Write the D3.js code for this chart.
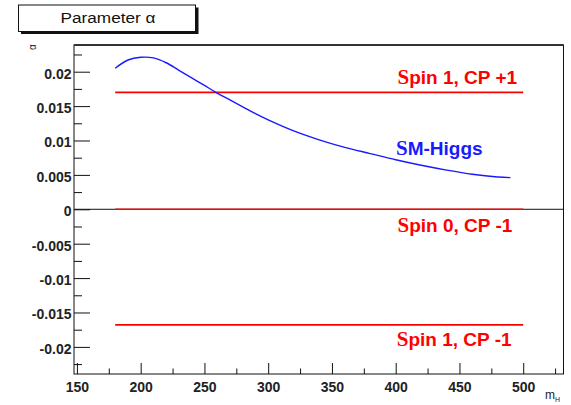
<!DOCTYPE html>
<html>
<head>
<meta charset="utf-8">
<script src="https://cdn.jsdelivr.net/npm/d3@7"></script>
<style>
  html, body { margin: 0; padding: 0; background: #fff; }
  svg { display: block; }
  text { font-family: "Liberation Sans", Arial, Helvetica, sans-serif; }
</style>
</head>
<body>
<svg id="chart" width="571" height="405"></svg>
<script>
// ---- data ----
const massPoints = [180, 190, 200, 210, 220, 230, 240, 250, 260, 270, 280, 290, 300, 320, 340, 360, 380, 400, 420, 440, 460, 480, 490];
const smHiggsAlpha = [0.0205, 0.0217, 0.0221, 0.0220, 0.0213, 0.0202, 0.0191, 0.0180, 0.0169, 0.0159, 0.0149, 0.0139, 0.0130, 0.0114, 0.0101, 0.0090, 0.0081, 0.0072, 0.0064, 0.0057, 0.0051, 0.0047, 0.0046];
const hypothesisNames = ["Spin 1, CP +1", "Spin 0, CP -1", "Spin 1, CP -1"];
const hypothesisAlpha = [0.0170, 0.0, -0.0168];
const hypothesisRange = [180, 500];
const xTickValues = [150, 200, 250, 300, 350, 400, 450, 500];
const xTickLabels = ["150", "200", "250", "300", "350", "400", "450", "500"];
const yTickValues = [-0.02, -0.015, -0.01, -0.005, 0, 0.005, 0.01, 0.015, 0.02];
const yTickLabels = ["-0.02", "-0.015", "-0.01", "-0.005", "0", "0.005", "0.01", "0.015", "0.02"];
const xMinorTicks = [175, 225, 275, 325, 375, 425, 475, 525];
const yMinorTicks = [-0.0225, -0.0175, -0.0125, -0.0075, -0.0025, 0.0025, 0.0075, 0.0125, 0.0175, 0.0225];

// ---- layout ----
const L = 74, R = 563.5, T = 45, B = 374;
const svg = d3.select("#chart");

const x = d3.scaleLinear().domain([147.7, 531.6]).range([L, R]);
const y = d3.scaleLinear().domain([-0.02394, 0.02388]).range([B, T]);

// Title box with shadow
svg.append("rect").attr("x", 21).attr("y", 7.5).attr("width", 177.5).attr("height", 26.5).attr("fill", "#111");
svg.append("rect").attr("x", 18.5).attr("y", 5).attr("width", 177).attr("height", 26.5)
  .attr("fill", "#fff").attr("stroke", "#111").attr("stroke-width", 1);
svg.append("text").attr("x", 108).attr("y", 23).attr("text-anchor", "middle")
  .attr("font-size", 15.5).attr("fill", "#111")
  .attr("textLength", 95).attr("lengthAdjust", "spacingAndGlyphs")
  .text("Parameter α");

// zero line
svg.append("line").attr("x1", L).attr("x2", R).attr("y1", y(0)).attr("y2", y(0))
  .attr("stroke", "#111").attr("stroke-width", 1);

// axes (ticks inward)
const yAxis = d3.axisLeft(y).tickValues(yTickValues)
  .tickFormat((d, i) => yTickLabels[i]).tickSize(-16).tickPadding(2.5);
const gy = svg.append("g").attr("transform", `translate(${L},0)`).call(yAxis);
gy.select(".domain").remove();
gy.selectAll(".tick line").attr("stroke", "#111");
gy.selectAll(".tick text").attr("font-size", 14).attr("font-weight", "bold")
  .attr("fill", "#222").attr("dy", "0.46em");

const yMinor = d3.axisLeft(y).tickValues(yMinorTicks).tickFormat("").tickSize(-8);
const gym = svg.append("g").attr("transform", `translate(${L},0)`).call(yMinor);
gym.select(".domain").remove();
gym.selectAll(".tick line").attr("stroke", "#111");

const xAxis = d3.axisBottom(x).tickValues(xTickValues)
  .tickFormat((d, i) => xTickLabels[i]).tickSize(-11).tickPadding(8);
const gx = svg.append("g").attr("transform", `translate(0,${B})`).call(xAxis);
gx.select(".domain").remove();
gx.selectAll(".tick line").attr("stroke", "#111");
gx.selectAll(".tick text").attr("font-size", 14).attr("font-weight", "bold")
  .attr("fill", "#222");

const xMinor = d3.axisBottom(x).tickValues(xMinorTicks).tickFormat("").tickSize(-5.5);
const gxm = svg.append("g").attr("transform", `translate(0,${B})`).call(xMinor);
gxm.select(".domain").remove();
gxm.selectAll(".tick line").attr("stroke", "#111");

// frame
svg.append("rect").attr("x", L).attr("y", T).attr("width", R - L).attr("height", B - T)
  .attr("fill", "none").attr("stroke", "#111").attr("stroke-width", 1);
svg.append("line").attr("x1", L).attr("x2", R).attr("y1", T).attr("y2", T)
  .attr("stroke", "#333").attr("stroke-width", 2);

// hypothesis lines
hypothesisAlpha.forEach((a, i) => {
  svg.append("line")
    .attr("x1", x(hypothesisRange[0])).attr("x2", x(hypothesisRange[1]))
    .attr("y1", y(a)).attr("y2", y(a))
    .attr("stroke", "#ff0000").attr("stroke-width", 1.6);
});

// SM Higgs curve
const line = d3.line().x((d, i) => x(massPoints[i])).y(d => y(d)).curve(d3.curveCatmullRom.alpha(0.5));
svg.append("path").datum(smHiggsAlpha).attr("d", line)
  .attr("fill", "none").attr("stroke", "#1a1aff").attr("stroke-width", 1.4);

// labels
function label(xv, yPix, txt, color) {
  const t = svg.append("text").attr("x", x(xv)).attr("y", yPix)
    .attr("font-size", 19).attr("font-weight", "bold").attr("fill", color);
  t.append("tspan").attr("font-family", "'Liberation Serif', 'Times New Roman', serif")
    .attr("font-size", 21).text(txt[0]);
  t.append("tspan").text(txt.slice(1));
}
const labelX = 401.4;
label(labelX, 84.3, hypothesisNames[0], "#ff0000");
label(labelX, 231.7, hypothesisNames[1], "#ff0000");
label(labelX - 0.6, 345.5, hypothesisNames[2], "#ff0000");
label(labelX - 1.2, 154.5, "SM-Higgs", "#1a1aff");

// axis titles
svg.append("text").attr("transform", "translate(36,47) rotate(-90)")
  .attr("text-anchor", "middle").attr("font-size", 10).attr("fill", "#222").text("α");
const mt = svg.append("text").attr("x", 545).attr("y", 398.5).attr("font-size", 12).attr("fill", "#222");
mt.append("tspan").text("m");
mt.append("tspan").attr("font-size", 7).attr("dy", 3).text("H");
</script>
</body>
</html>
